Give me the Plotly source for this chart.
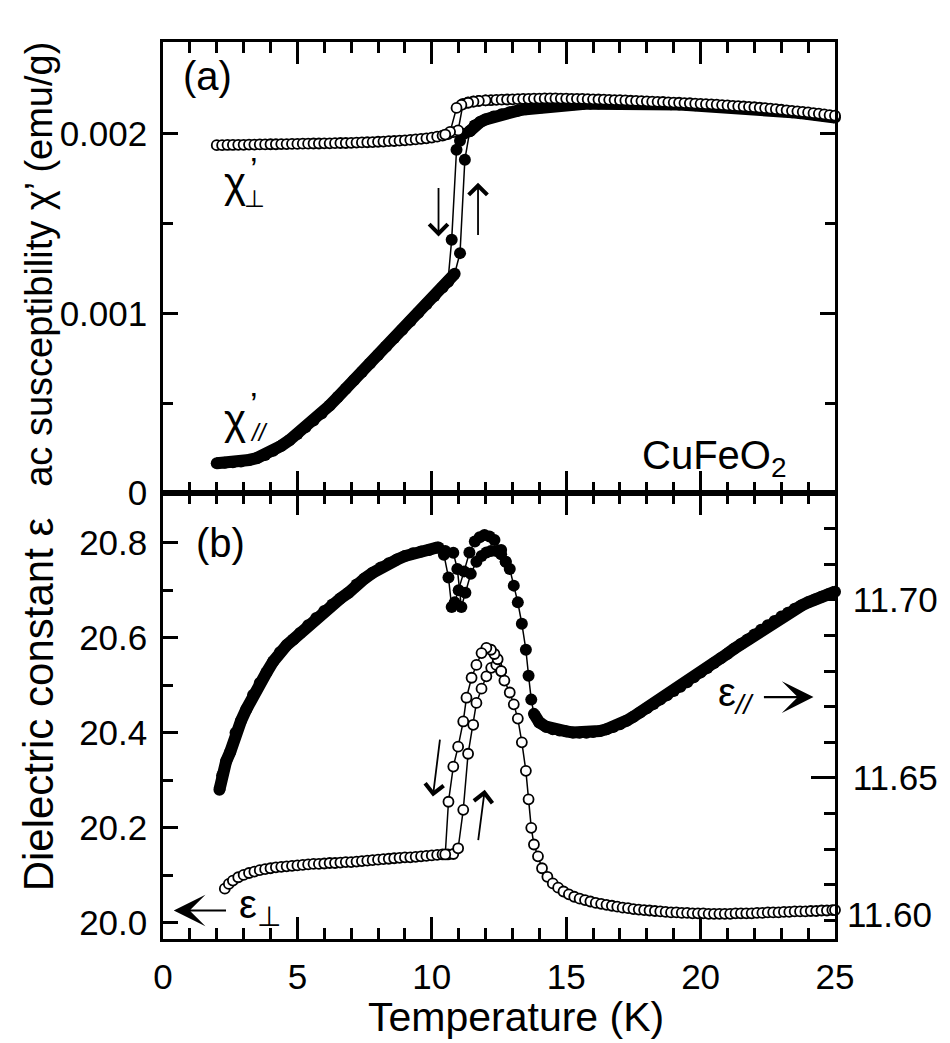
import plotly.graph_objects as go

# ---------------- (a) ac susceptibility chi' (emu/g) ----------------
# chi'_perp, warming sweep (open circles)
T_chi_perp = [2.0, 2.2, 2.4, 2.6, 2.8, 3.0, 3.2, 3.4, 3.6, 3.8,
              4.0, 4.2, 4.4, 4.6, 4.8, 5.0, 5.2, 5.4, 5.6, 5.8,
              6.0, 6.2, 6.4, 6.6, 6.8, 7.0, 7.2, 7.4, 7.6, 7.8,
              8.0, 8.2, 8.4, 8.6, 8.8, 9.0, 9.2, 9.4, 9.6, 9.8,
              10.0, 10.2, 10.4, 10.6,
              10.8, 10.98, 11.16, 11.35, 11.55, 11.75, 12.0,
              12.2, 12.4, 12.6, 12.8, 13.0, 13.2, 13.4, 13.6, 13.8, 14.0,
              14.2, 14.4, 14.6, 14.8, 15.0, 15.2, 15.4, 15.6, 15.8, 16.0,
              16.2, 16.4, 16.6, 16.8, 17.0, 17.2, 17.4, 17.6, 17.8, 18.0,
              18.2, 18.4, 18.6, 18.8, 19.0, 19.2, 19.4, 19.6, 19.8, 20.0,
              20.2, 20.4, 20.6, 20.8, 21.0, 21.2, 21.4, 21.6, 21.8, 22.0,
              22.2, 22.4, 22.6, 22.8, 23.0, 23.2, 23.4, 23.6, 23.8, 24.0,
              24.2, 24.4, 24.6, 24.8, 25.0]
chi_perp = [0.001936, 0.001936, 0.001937, 0.001937, 0.001938, 0.001938, 0.001939, 0.001939, 0.001940, 0.001940,
            0.001941, 0.001941, 0.001942, 0.001942, 0.001943, 0.001943, 0.001944, 0.001944, 0.001945, 0.001945,
            0.001946, 0.001946, 0.001947, 0.001948, 0.001948, 0.001949, 0.001950, 0.001951, 0.001952, 0.001953,
            0.001955, 0.001956, 0.001958, 0.001959, 0.001961, 0.001963, 0.001965, 0.001968, 0.001971, 0.001974,
            0.001978, 0.001983, 0.001989, 0.001997,
            0.002008, 0.002018, 0.002165, 0.002174, 0.002179, 0.002182, 0.002185,
            0.002186, 0.002188, 0.002189, 0.002190, 0.002191, 0.002192, 0.002193, 0.002194, 0.002195, 0.002195,
            0.002196, 0.002196, 0.002196, 0.002195, 0.002195, 0.002194, 0.002194, 0.002193, 0.002192, 0.002191,
            0.002190, 0.002189, 0.002188, 0.002187, 0.002186, 0.002185, 0.002183, 0.002182, 0.002181, 0.002180,
            0.002178, 0.002177, 0.002176, 0.002174, 0.002173, 0.002172, 0.002170, 0.002169, 0.002167, 0.002166,
            0.002164, 0.002163, 0.002161, 0.002159, 0.002157, 0.002155, 0.002153, 0.002151, 0.002149, 0.002147,
            0.002144, 0.002142, 0.002139, 0.002136, 0.002133, 0.002130, 0.002127, 0.002124, 0.002121, 0.002118,
            0.002114, 0.002111, 0.002107, 0.002103, 0.002100]
# chi'_perp, cooling branch through the transition
T_chi_perp_cool = [12.0, 11.75, 11.55, 11.35, 11.1, 10.92, 10.68, 10.5]
chi_perp_cool = [0.002185, 0.002182, 0.002178, 0.002172, 0.002160, 0.002143, 0.002010, 0.001995]

# chi'_par, warming sweep (filled circles)
T_chi_par = [2.0, 2.3, 2.6, 2.9, 3.2, 3.5, 3.8, 4.1, 4.4, 4.7,
             5.0, 5.3, 5.6, 5.9, 6.2, 6.5, 6.8, 7.1, 7.4, 7.7,
             8.0, 8.3, 8.6, 8.9, 9.2, 9.5, 9.8, 10.1, 10.4, 10.6,
             10.85, 11.05, 11.23, 11.41, 11.6, 11.8, 12.0, 12.3, 12.6, 12.9,
             13.2, 13.5, 13.8, 14.1, 14.4, 14.7, 15.0, 15.3, 15.6, 15.9,
             16.2, 16.5, 16.8, 17.1, 17.4, 17.7, 18.0, 18.3, 18.6, 18.9,
             19.2, 19.5, 19.8, 20.1, 20.4, 20.7, 21.0, 21.3, 21.6, 21.9,
             22.2, 22.5, 22.8, 23.1, 23.4, 23.7, 24.0, 24.3, 24.6, 25.0]
chi_par = [0.000166, 0.000168, 0.000171, 0.000176, 0.000184, 0.000195, 0.000212, 0.000235, 0.000263, 0.000294,
           0.000329, 0.000366, 0.000404, 0.000443, 0.000487, 0.000534, 0.000580, 0.000627, 0.000674, 0.000721,
           0.000768, 0.000815, 0.000862, 0.000909, 0.000956, 0.001003, 0.001050, 0.001097, 0.001144, 0.001175,
           0.001220, 0.001335, 0.001855, 0.002013, 0.002045, 0.002065, 0.002079, 0.002095, 0.002108, 0.002119,
           0.002128, 0.002136, 0.002142, 0.002147, 0.002152, 0.002156, 0.002160, 0.002163, 0.002165, 0.002167,
           0.002168, 0.002169, 0.002169, 0.002169, 0.002169, 0.002168, 0.002167, 0.002166, 0.002165, 0.002164,
           0.002162, 0.002160, 0.002158, 0.002156, 0.002154, 0.002152, 0.002149, 0.002146, 0.002143, 0.002140,
           0.002136, 0.002132, 0.002128, 0.002124, 0.002119, 0.002114, 0.002109, 0.002104, 0.002098, 0.002090]
T_chi_par_cool = [11.6, 11.41, 11.2, 11.05, 10.92, 10.74, 10.6]
chi_par_cool = [0.002045, 0.002013, 0.002000, 0.001960, 0.001910, 0.001410, 0.001175]
# the warming trace is drawn as a dense band outside this window
chi_par_jump = (10.85, 11.41)

# ---------------- (b) dielectric constant ----------------
# eps_perp (left axis), warming sweep (open circles)
T_eps_perp = [2.3, 2.45, 2.6,
              2.8, 3.0, 3.2, 3.4, 3.6, 3.8, 4.0, 4.2, 4.4, 4.6,
              4.8, 5.0, 5.2, 5.4, 5.6, 5.8, 6.0, 6.2, 6.4, 6.6,
              6.8, 7.0, 7.2, 7.4, 7.6, 7.8, 8.0, 8.2, 8.4, 8.6,
              8.8, 9.0, 9.2, 9.4, 9.6, 9.8, 10.0, 10.2, 10.4, 10.6,
              10.8,
              10.98, 11.17, 11.35, 11.54, 11.66, 11.85, 12.03, 12.21, 12.4, 12.58,
              12.7, 12.9, 13.05, 13.2, 13.35, 13.5, 13.6, 13.7, 13.8, 13.95,
              14.1, 14.3, 14.5, 14.7, 14.9, 15.1, 15.3, 15.5, 15.7, 15.9,
              16.1, 16.3, 16.5, 16.7, 16.9, 17.1, 17.3, 17.5, 17.7, 17.9,
              18.1, 18.3, 18.5, 18.7, 18.9, 19.1, 19.3, 19.5, 19.7, 19.9,
              20.1, 20.3, 20.5, 20.7, 20.9, 21.1, 21.3, 21.5, 21.7, 21.9,
              22.1, 22.3, 22.5, 22.7, 22.9, 23.1, 23.3, 23.5, 23.7, 23.9,
              24.1, 24.3, 24.5, 24.7, 24.9, 25.0]
eps_perp = [20.072, 20.082, 20.089,
            20.096, 20.101, 20.105, 20.108, 20.111, 20.113, 20.115, 20.117, 20.118, 20.119,
            20.120, 20.121, 20.122, 20.123, 20.124, 20.124, 20.125, 20.126, 20.126, 20.127,
            20.128, 20.128, 20.129, 20.130, 20.131, 20.132, 20.133, 20.134, 20.135, 20.136,
            20.137, 20.138, 20.138, 20.139, 20.140, 20.141, 20.142, 20.143, 20.144, 20.144,
            20.145,
            20.157, 20.238, 20.356, 20.417, 20.463, 20.493, 20.519, 20.537, 20.543, 20.530,
            20.510, 20.485, 20.460, 20.430, 20.380, 20.320, 20.260, 20.200, 20.165, 20.140,
            20.115, 20.097, 20.083, 20.074, 20.066, 20.060, 20.055, 20.051, 20.048, 20.045,
            20.042, 20.040, 20.038, 20.036, 20.034, 20.032, 20.031, 20.029, 20.028, 20.027,
            20.026, 20.025, 20.024, 20.023, 20.022, 20.022, 20.021, 20.021, 20.020, 20.020,
            20.020, 20.019, 20.019, 20.019, 20.019, 20.019, 20.020, 20.020, 20.020, 20.020,
            20.021, 20.021, 20.022, 20.022, 20.022, 20.023, 20.023, 20.024, 20.024, 20.024,
            20.025, 20.025, 20.026, 20.026, 20.027, 20.027]
T_eps_perp_cool = [12.58, 12.45, 12.33, 12.2, 12.03, 11.85, 11.66, 11.48, 11.29, 11.17,
                   10.98, 10.8, 10.62, 10.5]
eps_perp_cool = [20.530, 20.555, 20.566, 20.575, 20.579, 20.568, 20.543, 20.516, 20.474, 20.424,
                 20.371, 20.329, 20.255, 20.144]

# eps_par (right axis), warming sweep (filled circles)
T_eps_par = [2.1, 2.2, 2.35, 2.5, 2.7, 2.9, 3.1, 3.35, 3.6, 3.85,
             4.1, 4.35, 4.6, 4.85, 5.1, 5.4, 5.7, 6.0, 6.3, 6.6,
             6.9, 7.2, 7.5, 7.8, 8.1, 8.4, 8.7, 9.0, 9.3, 9.6,
             9.9, 10.2, 10.5, 10.8, 10.95, 11.1, 11.25, 11.45, 11.66, 11.85,
             12.03, 12.2, 12.4, 12.58, 12.75, 12.9, 13.05, 13.2, 13.35, 13.5,
             13.6, 13.7, 13.8, 14.0, 14.25, 14.5, 14.75, 15.0, 15.25, 15.5,
             15.75, 16.0, 16.25, 16.5, 16.75, 17.0, 17.25, 17.5, 17.75, 18.0,
             18.25, 18.5, 18.75, 19.0, 19.25, 19.5, 19.75, 20.0, 20.25, 20.5,
             20.75, 21.0, 21.25, 21.5, 21.75, 22.0, 22.25, 22.5, 22.75, 23.0,
             23.25, 23.5, 23.75, 24.0, 24.25, 24.5, 24.75, 25.0]
eps_par = [11.6467, 11.6507, 11.6547, 11.6573, 11.6627, 11.6660, 11.6693, 11.6733, 11.6767, 11.6796,
           11.6827, 11.6853, 11.6873, 11.6889, 11.6907, 11.6929, 11.6949, 11.6969, 11.6987, 11.7004,
           11.7020, 11.7043, 11.7060, 11.7076, 11.7091, 11.7103, 11.7113, 11.7123, 11.7131, 11.7136,
           11.7140, 11.7147, 11.7137, 11.7132, 11.7087, 11.6980, 11.7020, 11.7073, 11.7107, 11.7123,
           11.7133, 11.7137, 11.7137, 11.7128, 11.7107, 11.7087, 11.7040, 11.6993, 11.6933, 11.6860,
           11.6787, 11.6720, 11.6680, 11.6656, 11.6644, 11.6637, 11.6633, 11.6631, 11.6628, 11.6627,
           11.6627, 11.6629, 11.6632, 11.6637, 11.6643, 11.6651, 11.6661, 11.6672, 11.6684, 11.6696,
           11.6708, 11.6720, 11.6732, 11.6744, 11.6756, 11.6769, 11.6783, 11.6796, 11.6809, 11.6823,
           11.6836, 11.6849, 11.6863, 11.6876, 11.6889, 11.6903, 11.6916, 11.6929, 11.6941, 11.6953,
           11.6964, 11.6975, 11.6984, 11.6993, 11.7001, 11.7009, 11.7016, 11.7023]
T_eps_par_cool = [12.75, 12.58, 12.33, 12.15, 11.96, 11.78, 11.6, 11.4, 11.2, 11.0,
                  10.85, 10.74, 10.62, 10.45, 10.25]
eps_par_cool = [11.7107, 11.7140, 11.7168, 11.7178, 11.7182, 11.7176, 11.7164, 11.7133, 11.7080, 11.7027,
                11.6993, 11.6980, 11.7063, 11.7127, 11.7147]
eps_par_jump = (10.2, 13.8)

# axis ticks
x_ticks = [0, 5, 10, 15, 20, 25]
chi_ticks = [0, 0.001, 0.002]
chi_ticktext = ["0", "0.001", "0.002"]
eps_left_ticks = [20.0, 20.2, 20.4, 20.6, 20.8]
eps_right_ticks = [11.65, 11.70]

FONT = "Liberation Sans, Arial, sans-serif"
BLACK = "black"

fig = go.Figure()

for T, v in [(T_chi_perp, chi_perp), (T_chi_par, chi_par), (T_chi_perp_cool, chi_perp_cool),
             (T_chi_par_cool, chi_par_cool), (T_eps_perp, eps_perp), (T_eps_perp_cool, eps_perp_cool),
             (T_eps_par, eps_par), (T_eps_par_cool, eps_par_cool)]:
    assert len(T) == len(v)


def add_series(T, v, xa, ya, filled):
    if filled:
        marker = dict(symbol="circle", size=12, color=BLACK, line=dict(width=0))
    else:
        marker = dict(symbol="circle", size=10, color="white", line=dict(color=BLACK, width=1.8))
    fig.add_trace(go.Scatter(x=T, y=v, xaxis=xa, yaxis=ya, mode="lines+markers",
                             line=dict(color=BLACK, width=1.5), marker=marker,
                             showlegend=False, cliponaxis=False))


def add_band(T, v, xa, ya, jump):
    # dense filled data merge into a solid band away from the transition
    lo = [(t, y) for t, y in zip(T, v) if t <= jump[0]]
    hi = [(t, y) for t, y in zip(T, v) if t >= jump[1]]
    for seg in (lo, hi):
        fig.add_trace(go.Scatter(x=[p[0] for p in seg], y=[p[1] for p in seg], xaxis=xa, yaxis=ya,
                                 mode="lines", line=dict(color=BLACK, width=12),
                                 showlegend=False, hoverinfo="skip", cliponaxis=False))


# panel (a): filled first so the open circles sit on top where the curves meet
add_band(T_chi_par, chi_par, "x", "y", chi_par_jump)
add_series(T_chi_par, chi_par, "x", "y", True)
add_series(T_chi_par_cool, chi_par_cool, "x", "y", True)
add_series(T_chi_perp, chi_perp, "x", "y", False)
add_series(T_chi_perp_cool, chi_perp_cool, "x", "y", False)
# panel (b)
add_band(T_eps_par, eps_par, "x2", "y3", eps_par_jump)
add_series(T_eps_par, eps_par, "x2", "y3", True)
add_series(T_eps_par_cool, eps_par_cool, "x2", "y3", True)
add_series(T_eps_perp, eps_perp, "x2", "y2", False)
add_series(T_eps_perp_cool, eps_perp_cool, "x2", "y2", False)

axis_common = dict(showline=True, linecolor=BLACK, linewidth=2.5, ticks="inside",
                   tickcolor=BLACK, tickwidth=2.5, showgrid=False, zeroline=False)
SPLIT = 0.4972
tick_font = dict(family=FONT, size=35, color=BLACK)

fig.update_layout(
    width=950, height=1043,
    margin=dict(l=163, r=107, t=42, b=104),
    paper_bgcolor="white", plot_bgcolor="white",
    xaxis=dict(**axis_common, domain=[0, 1], anchor="y", range=[0, 25],
               tickvals=x_ticks, ticklen=22, mirror="ticks", showticklabels=False,
               minor=dict(dtick=1, tick0=0, ticklen=11, ticks="inside", tickcolor=BLACK, tickwidth=2.5)),
    yaxis=dict(**axis_common, domain=[SPLIT, 1], anchor="x", range=[0, 0.00251],
               tickvals=chi_ticks, ticktext=chi_ticktext, ticklen=15, mirror="ticks",
               tickfont=tick_font, ticklabelstandoff=6,
               minor=dict(tickvals=[0.0005, 0.0015], ticklen=10, ticks="inside", tickcolor=BLACK, tickwidth=2.5)),
    xaxis2=dict(**axis_common, domain=[0, 1], anchor="y2", range=[0, 25],
                tickvals=x_ticks, ticklen=22, mirror="ticks",
                tickfont=dict(family=FONT, size=35, color=BLACK), ticklabelstandoff=5,
                minor=dict(dtick=1, tick0=0, ticklen=11, ticks="inside", tickcolor=BLACK, tickwidth=2.5)),
    yaxis2=dict(**axis_common, domain=[0, SPLIT], anchor="x2", range=[19.966, 20.905],
                tickvals=eps_left_ticks, ticktext=[f"{v:.1f}" for v in eps_left_ticks], ticklen=15,
                tickfont=tick_font, ticklabelstandoff=6,
                minor=dict(tickvals=[20.1, 20.3, 20.5, 20.7], ticklen=10, ticks="inside",
                           tickcolor=BLACK, tickwidth=2.5)),
    yaxis3=dict(**axis_common, overlaying="y2", side="right", anchor="x2", range=[11.6048, 11.730],
                tickvals=eps_right_ticks, ticktext=[f"{v:.2f}" for v in eps_right_ticks], ticklen=24,
                tickfont=tick_font, ticklabelstandoff=8,
                minor=dict(tickvals=[11.61, 11.62, 11.63, 11.64, 11.66, 11.67, 11.68, 11.69, 11.71, 11.72],
                           ticklen=11, ticks="inside", tickcolor=BLACK, tickwidth=2.5)),
)

ann = []


def text(x, y, s, xref, yref, size=40, **kw):
    ann.append(dict(x=x, y=y, xref=xref, yref=yref, text=s, showarrow=False,
                    font=dict(family=FONT, size=size, color=BLACK), **kw))


def arrow(x, y, ax, ay, xref, yref, head=4, width=1.8, size=2.0):
    ann.append(dict(x=x, y=y, ax=ax, ay=ay, xref=xref, yref=yref, axref=xref, ayref=yref,
                    text="", showarrow=True, arrowhead=head, arrowwidth=width, arrowsize=size,
                    arrowcolor=BLACK, standoff=0, startstandoff=0))


# panel labels
text(1.66, 0.00232, "(a)", "x", "y")
text(2.14, 20.80, "(b)", "x2", "y2")
text(20.5, 0.000195, "CuFeO<sub>2</sub>", "x", "y")

# chi' labels with stacked prime / subscript
text(2.66, 0.001727, "χ", "x", "y", size=42)
text(3.40, 0.001805, "’", "x", "y", size=34)
text(3.40, 0.001640, "⊥", "x", "y", size=24)
text(2.66, 0.000407, "χ", "x", "y", size=42)
text(3.40, 0.000495, "’", "x", "y", size=34)
text(3.58, 0.000335, "<i>//</i>", "x", "y", size=24)

# hysteresis arrows
arrow(10.25, 0.001428, 10.25, 0.001706, "x", "y")
arrow(11.72, 0.001727, 11.72, 0.001428, "x", "y")
arrow(10.04, 20.266, 10.31, 20.389, "x2", "y2")
arrow(11.97, 20.280, 11.72, 20.171, "x2", "y2")

# axis pointers for the two dielectric curves
arrow(24.2, 11.6727, 22.3, 11.6727, "x2", "y3", head=3, width=2.2, size=2.4)
text(22.1, 11.6727, "ε<sub><i>//</i></sub>", "x2", "y3", xanchor="right", yshift=2)
arrow(0.4, 20.026, 2.4, 20.026, "x2", "y2", head=3, width=2.2, size=2.4)
text(2.75, 20.026, "ε<sub>⊥</sub>", "x2", "y2", xanchor="left", yshift=4)

# lowest right-axis label sits at the bottom corner
ann.append(dict(x=1, y=0, xref="paper", yref="paper", text="11.60", showarrow=False,
                xanchor="left", yanchor="middle", xshift=10, yshift=25, font=tick_font))

# axis titles
ann.append(dict(x=-0.184, y=0.752, xref="paper", yref="paper", text="ac susceptibility χ’ (emu/g)",
                textangle=-90, showarrow=False, xanchor="center", yanchor="middle",
                font=dict(family=FONT, size=38, color=BLACK)))
ann.append(dict(x=-0.184, y=0.262, xref="paper", yref="paper", text="Dielectric constant ε",
                textangle=-90, showarrow=False, xanchor="center", yanchor="middle",
                font=dict(family=FONT, size=42, color=BLACK)))
ann.append(dict(x=0.526, y=-0.0865, xref="paper", yref="paper", text="Temperature (K)",
                showarrow=False, xanchor="center", yanchor="middle",
                font=dict(family=FONT, size=41, color=BLACK)))

fig.update_layout(annotations=ann)
fig.write_html("out.html")
